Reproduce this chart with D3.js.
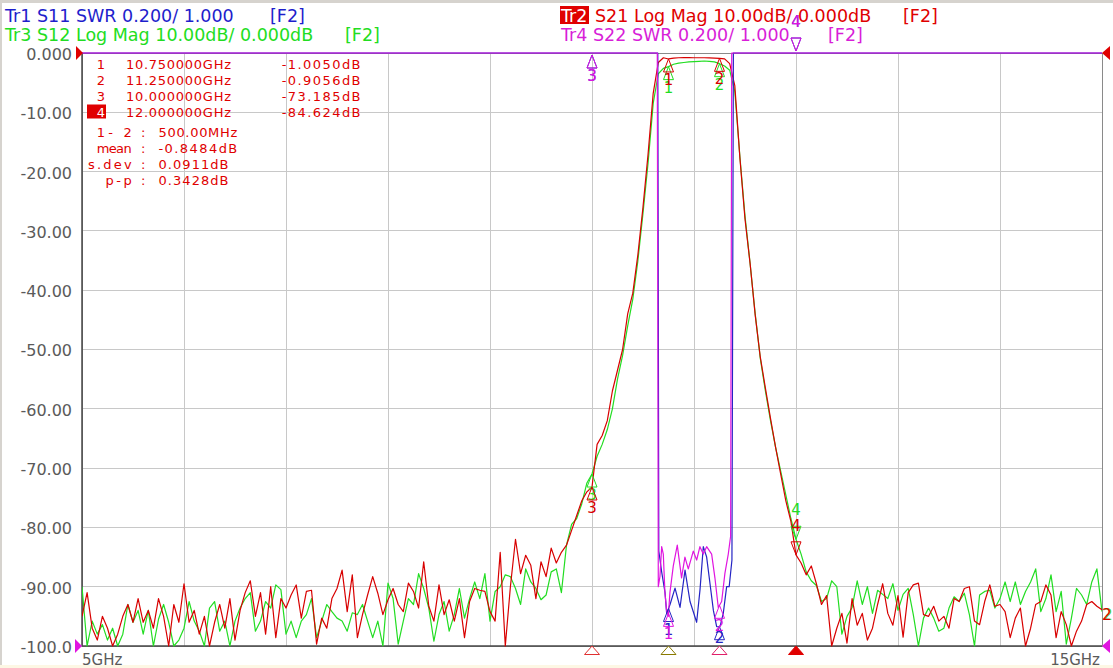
<!DOCTYPE html>
<html>
<head>
<meta charset="utf-8">
<script src="https://cdnjs.cloudflare.com/ajax/libs/d3/7.8.5/d3.min.js"></script>
<style>
  body { margin: 0; background: #fff; }
  svg { display: block; font-family: "DejaVu Sans", Verdana, sans-serif; }
</style>
</head>
<body>
<div class="vna"></div>
<script>
// sweep 5 GHz .. 15 GHz, 201 points
var sweepStart = 5, sweepStop = 15, sweepPoints = 201;

// Tr2 S21 log mag (dB)
var s21dB = [
  -95, -91, -97, -99, -95, -97, -100, -98, -95, -93,
  -96, -92, -96, -94, -97, -92, -95, -100, -93, -96,
  -89.5, -96, -94, -98, -95, -100, -96, -93, -97, -92,
  -99, -94, -91, -89, -95, -91, -98, -90, -98.6, -92,
  -93.6, -91.4, -89.7, -95.3, -90.8, -90.6, -99.7, -95.3, -97, -92,
  -90.3, -87.2, -94.2, -88, -98.6, -94.7, -91.4, -88.3, -91.1, -94.7,
  -92.2, -90.3, -93, -94.2, -89.4, -90.8, -93.6, -85.8, -93.3, -95.8,
  -89.7, -94.7, -92.2, -95.8, -92, -98.6, -92.5, -90.3, -90.6, -90.8,
  -94.2, -95.8, -84.2, -100, -90, -82, -87.8, -84.7, -86.4, -92,
  -85.8, -88.3, -83.5, -86, -84.2, -83, -80.5, -78, -75.5, -74,
  -73.185, -66, -64.5, -62, -57, -53.5, -50, -44, -40.5, -34,
  -26, -17, -6.8, -1.6, -0.8, -1.005, -0.85, -0.8, -0.78, -0.78,
  -0.8, -0.8, -0.8, -0.82, -0.85, -0.906, -1.0, -1.8, -5.5, -17.7,
  -28, -35.5, -44.2, -51.3, -56.5, -61.6, -66.5, -71, -75.5, -79,
  -84.624, -86, -88, -86.5, -89.5, -93, -91.5, -100, -97, -94.5,
  -99.5, -92, -96.5, -94.5, -99, -97, -93, -89.5, -94.5, -96.5,
  -91.5, -98.5, -91, -89.7, -89.4, -94.7, -95, -93.3, -95.8, -95,
  -97, -92, -92.5, -90.3, -90, -95.8, -96.4, -92.5, -89.7, -93.3,
  -93, -94.2, -98.6, -95.3, -93.6, -100, -97, -93, -92.5, -89.7,
  -91.4, -98.6, -94.2, -96.4, -100, -97.5, -95.8, -93, -92.5, -93.3,
  -93.9
];

// Tr3 S12 log mag (dB)
var s12dB = [
  -90, -100, -95.8, -98, -96.4, -99, -97, -100, -98, -93,
  -96, -94, -98, -94, -100, -95.5, -93, -96, -100, -99,
  -97, -92.5, -95.8, -97.5, -100, -93.6, -92.5, -97.5, -95.8, -100,
  -95.8, -93.6, -92, -91, -97.5, -95.8, -92.5, -93.6, -89.7, -90.5,
  -98, -95.8, -98.6, -95.8, -94.7, -92, -98.6, -95.8, -93, -94.2,
  -95.3, -95.8, -97.5, -94.4, -94.7, -93, -95.8, -98.6, -95.8, -100,
  -89.4, -92, -99.7, -95.8, -92, -93, -87.8, -90.3, -93.6, -99.2,
  -94.7, -92.5, -97.5, -94.7, -90.3, -95.3, -92, -89.2, -92, -87.8,
  -95.8, -90.8, -90, -88, -88.3, -90.3, -93, -87, -89.2, -90.3,
  -92.2, -91.4, -87.5, -87, -91, -83, -79.5, -78.5, -76, -72.5,
  -71, -68, -66, -63.5, -60, -55, -51, -46, -41.5, -35,
  -27, -18.5, -8.5, -3.5, -2.6, -2.3, -1.9, -1.7, -1.6, -1.5,
  -1.45, -1.4, -1.35, -1.4, -1.5, -1.8, -2.2, -2.9, -6.5, -17.5,
  -27.5, -35.5, -44, -51.5, -57, -62, -66.5, -70.5, -74.5, -78.5,
  -82, -84.5, -87.5, -89, -89.8, -92.5, -92, -89, -90, -98,
  -95, -93.5, -89, -93, -90, -94.5, -90.6, -91.3, -92, -89.5,
  -94, -91.3, -90.3, -94.7, -100, -95.3, -93.6, -95.3, -97.5, -97,
  -93.6, -91.7, -92.5, -91.1, -94.7, -100, -91.4, -90.8, -90.6, -93.6,
  -92, -89.2, -92.5, -89.2, -93, -90.8, -89.2, -87, -94.2, -92,
  -88, -94.2, -90.8, -99.7, -95.3, -90.3, -91.4, -93, -89.2, -87,
  -94.2
];

// Tr1 S11 SWR, only the passband is on screen (3.000 = top of scale)
var s11Freq = [5, 10.645, 10.655, 10.667, 10.683, 10.716, 10.732, 10.765, 10.814, 10.863,
  10.912, 10.961, 11.026, 11.059, 11.091, 11.124, 11.157, 11.19, 11.222, 11.255,
  11.287, 11.32, 11.345, 11.372, 11.386, 15];
var s11Swr = [3, 3, 1.32, 1.29, 1.25, 1.18, 1.11, 1.14, 1.195, 1.13,
  1.256, 1.15, 1.08, 1.19, 1.335, 1.30, 1.21, 1.12, 1.065, 1.065,
  1.11, 1.20, 1.20, 1.29, 3, 3];

// Tr4 S22 SWR
var s22Freq = [5, 10.64, 10.65, 10.666, 10.683, 10.699, 10.715, 10.731, 10.748, 10.764,
  10.797, 10.836, 10.878, 10.911, 10.944, 10.993, 11.026, 11.058, 11.091, 11.124,
  11.173, 11.205, 11.238, 11.271, 11.303, 11.336, 11.359, 11.37, 15];
var s22Swr = [3, 3, 1.20, 1.234, 1.335, 1.31, 1.18, 1.12, 1.10, 1.18,
  1.27, 1.34, 1.23, 1.30, 1.26, 1.32, 1.29, 1.335, 1.31, 1.335,
  1.31, 1.23, 1.13, 1.15, 1.245, 1.31, 1.37, 3, 3];

// markers 1..4 (marker 4 active)
var markerFreq = [10.75, 11.25, 10.0, 12.0];
var markerNames = ["1", "2", "3", "4"];
var markerStim = ["10.750000GHz", "11.250000GHz", "10.000000GHz", "12.000000GHz"];
var markerRead = ["-1.0050dB", "-0.9056dB", "-73.185dB", "-84.624dB"];
var statNames = ["1- 2", "mean", "s.dev", "p-p"];
var statValues = ["500.00MHz", "-0.8484dB", "0.0911dB", "0.3428dB"];

var yTickValues = [0, -10, -20, -30, -40, -50, -60, -70, -80, -90, -100];
var yTickLabels = ["0.000", "-10.00", "-20.00", "-30.00", "-40.00", "-50.00",
  "-60.00", "-70.00", "-80.00", "-90.00", "-100.0"];
var xEndLabels = ["5GHz", "15GHz"];

var width = 1113, height = 668,
    plot = {left: 82, right: 1102, top: 53, bottom: 646};

var sweepGHz = d3.range(sweepPoints).map(function(i) {
  return sweepStart + i * (sweepStop - sweepStart) / (sweepPoints - 1);
});

var x = d3.scaleLinear().domain([sweepStart, sweepStop]).range([plot.left, plot.right]);
var yLog = d3.scaleLinear().domain([-100, 0]).range([plot.bottom, plot.top]);
var ySwr = d3.scaleLinear().domain([1, 3]).range([plot.bottom, plot.top]);

var colors = {s11: "#2424c4", s21: "#d80000", s12: "#22dd22", s22: "#e014e0"};

var svg = d3.select("div.vna").append("svg")
    .attr("width", width)
    .attr("height", height);

// window frame bits
svg.append("rect").attr("x", 0).attr("y", 0).attr("width", width).attr("height", 3).attr("fill", "#d6d3ce");
svg.append("rect").attr("x", 0).attr("y", 0).attr("width", 2).attr("height", height).attr("fill", "#d6d3ce");
svg.append("rect").attr("x", 0).attr("y", 665).attr("width", width).attr("height", 3).attr("fill", "#fdf7e4");

// grid
var grid = svg.append("g").attr("shape-rendering", "crispEdges");
grid.selectAll(".vl")
    .data(x.ticks(10))
  .enter().append("line")
    .attr("class", "vl")
    .attr("x1", function(d) { return x(d); })
    .attr("x2", function(d) { return x(d); })
    .attr("y1", plot.top)
    .attr("y2", plot.bottom)
    .attr("stroke", "#c8c8c8");
grid.selectAll(".hl")
    .data(yTickValues)
  .enter().append("line")
    .attr("class", "hl")
    .attr("x1", plot.left)
    .attr("x2", plot.right)
    .attr("y1", function(d) { return yLog(d); })
    .attr("y2", function(d) { return yLog(d); })
    .attr("stroke", "#c8c8c8");

// frame
svg.append("rect")
    .attr("x", plot.left).attr("y", plot.top)
    .attr("width", plot.right - plot.left).attr("height", plot.bottom - plot.top)
    .attr("fill", "none").attr("stroke", "#8a8a8a").attr("shape-rendering", "crispEdges");
svg.append("path")
    .attr("d", "M" + plot.left + "," + plot.top + "V" + plot.bottom + "H" + plot.right)
    .attr("fill", "none").attr("stroke", "#4a4a4a").attr("stroke-width", 1.5);

// y axis labels
svg.append("g")
    .attr("transform", "translate(72,0)")
    .call(d3.axisLeft(yLog)
      .tickValues(yTickValues)
      .tickFormat(function(d, i) { return yTickLabels[i]; })
      .tickSize(0)
      .tickPadding(0))
    .attr("font-family", "DejaVu Sans, sans-serif")
    .attr("font-size", 16)
    .call(function(g) { g.select(".domain").remove(); })
    .selectAll("text")
      .attr("fill", "#5a5a5a")
      .attr("dy", "0.4em");

svg.selectAll(".xend")
    .data(xEndLabels)
  .enter().append("text")
    .attr("class", "xend")
    .attr("x", function(d, i) { return i === 0 ? x(sweepStart) : x(sweepStop) - 2; })
    .attr("y", 665)
    .attr("text-anchor", function(d, i) { return i === 0 ? "start" : "end"; })
    .attr("font-size", 15)
    .attr("fill", "#5a5a5a")
    .text(function(d) { return d; });

// traces
svg.append("clipPath").attr("id", "plotclip")
  .append("rect")
    .attr("x", plot.left).attr("y", plot.top - 1)
    .attr("width", plot.right - plot.left).attr("height", plot.bottom - plot.top + 2);

var traces = [
  {freqs: sweepGHz, vals: s12dB, y: yLog, color: colors.s12},
  {freqs: sweepGHz, vals: s21dB, y: yLog, color: colors.s21},
  {freqs: s11Freq, vals: s11Swr, y: ySwr, color: colors.s11},
  {freqs: s22Freq, vals: s22Swr, y: ySwr, color: colors.s22}
];

var traceG = svg.append("g").attr("clip-path", "url(#plotclip)");
traces.forEach(function(t) {
  var line = d3.line()
      .x(function(d, i) { return x(t.freqs[i]); })
      .y(function(d) { return t.y(d); });
  traceG.append("path")
      .datum(t.vals)
      .attr("fill", "none")
      .attr("stroke", t.color)
      .attr("stroke-width", 1.2)
      .attr("stroke-linejoin", "round")
      .attr("d", line);
});

// markers on traces
function valueAt(freqs, vals, f) {
  var i = d3.bisectLeft(freqs, f);
  if (i <= 0) return vals[0];
  if (i >= freqs.length) return vals[vals.length - 1];
  var t = (f - freqs[i - 1]) / (freqs[i] - freqs[i - 1]);
  return vals[i - 1] + t * (vals[i] - vals[i - 1]);
}

var markG = svg.append("g").attr("font-size", 15).attr("text-anchor", "middle");
traces.forEach(function(t) {
  markerFreq.forEach(function(f, m) {
    var cx = x(f),
        py = t.y(valueAt(t.freqs, t.vals, f)),
        active = m === 3;
    if (active) {
      py = Math.min(py, plot.bottom);
      if (py <= plot.top) py = plot.top - 2;
      markG.append("path")
          .attr("d", "M" + cx + "," + py + "l-5,-13h10z")
          .attr("fill", "none").attr("stroke", t.color);
      markG.append("text")
          .attr("x", cx).attr("y", py - 24)
          .attr("fill", t.color)
          .text(markerNames[m]);
    } else {
      py = Math.max(py, plot.top + 2);
      markG.append("path")
          .attr("d", "M" + cx + "," + py + "l-5,13h10z")
          .attr("fill", "none").attr("stroke", t.color);
      markG.append("text")
          .attr("x", cx).attr("y", Math.min(py + 26, plot.bottom - 3))
          .attr("fill", t.color)
          .text(markerNames[m]);
    }
  });
});

// stimulus markers on the bottom edge (same order as markerFreq)
var stimColors = ["#8a7a00", "#e0206a", "#e03030", "#e00000"];
svg.selectAll(".stim")
    .data(markerFreq)
  .enter().append("path")
    .attr("class", "stim")
    .attr("d", function(d) { return "M" + x(d) + "," + plot.bottom + "l-7.5,8.5h15z"; })
    .attr("fill", function(d, i) { return i === 3 ? stimColors[i] : "#fff"; })
    .attr("stroke", function(d, i) { return stimColors[i]; });

// reference level arrows
svg.append("path").attr("d", "M76,46L83,53L76,60Z").attr("fill", "#e00000");
svg.append("path").attr("d", "M75,639L82,646L75,653Z").attr("fill", colors.s22);
svg.append("path").attr("d", "M1110,46L1102,53L1110,60Z").attr("fill", "#e00000");
svg.append("path").attr("d", "M1110,639L1102,646L1110,653Z").attr("fill", colors.s22);
svg.append("text").attr("x", 1103).attr("y", 620).attr("font-size", 15).attr("fill", colors.s12).text("2");
svg.append("text").attr("x", 1102).attr("y", 620).attr("font-size", 15).attr("fill", colors.s21).text("2");

// channel title lines
var head = svg.append("g").attr("font-size", 17.5);
head.append("text").attr("x", 5).attr("y", 22).attr("fill", "#1e1ecc").text("Tr1 S11 SWR 0.200/ 1.000");
head.append("text").attr("x", 270).attr("y", 22).attr("fill", "#1e1ecc").text("[F2]");
head.append("text").attr("x", 5).attr("y", 41).attr("fill", "#22dd22").text("Tr3 S12 Log Mag 10.00dB/ 0.000dB");
head.append("text").attr("x", 345).attr("y", 41).attr("fill", "#22dd22").text("[F2]");
head.append("rect").attr("x", 560).attr("y", 6).attr("width", 29).attr("height", 18).attr("fill", "#e00000");
head.append("text").attr("x", 561).attr("y", 22).attr("fill", "#fff").text("Tr2");
head.append("text").attr("x", 595).attr("y", 22).attr("fill", "#e00000").text("S21 Log Mag 10.00dB/ 0.000dB");
head.append("text").attr("x", 903).attr("y", 22).attr("fill", "#e00000").text("[F2]");
head.append("text").attr("x", 561).attr("y", 41).attr("fill", "#d81ed8").text("Tr4 S22 SWR 0.200/ 1.000");
head.append("text").attr("x", 828).attr("y", 41).attr("fill", "#d81ed8").text("[F2]");

// marker readout table (fixed pitch text)
var pitch = 8.75;
var table = svg.append("g").attr("font-size", 13).attr("fill", "#e00000");
function cell(str, x0, y0, anchorEnd) {
  var w = str.length * pitch;
  return table.append("text")
      .attr("x", anchorEnd ? x0 - w : x0)
      .attr("y", y0)
      .attr("textLength", w)
      .attr("lengthAdjust", "spacing")
      .text(str);
}
markerNames.forEach(function(name, i) {
  var yy = 69 + i * 16;
  if (i === 3) {
    table.append("rect").attr("x", 87).attr("y", yy - 12.5).attr("width", 19).attr("height", 14).attr("fill", "#e00000");
    cell(name, 96.7, yy).attr("fill", "#fff");
  } else {
    cell(name, 96.7, yy);
  }
  cell(markerStim[i], 126, yy);
  cell(markerRead[i], 360.5, yy, true);
});
statNames.forEach(function(name, i) {
  var yy = 137 + i * 16;
  cell(name, 131.7, yy, true);
  cell(":", 141, yy);
  cell(statValues[i], 158.5, yy);
});
</script>
</body>
</html>
